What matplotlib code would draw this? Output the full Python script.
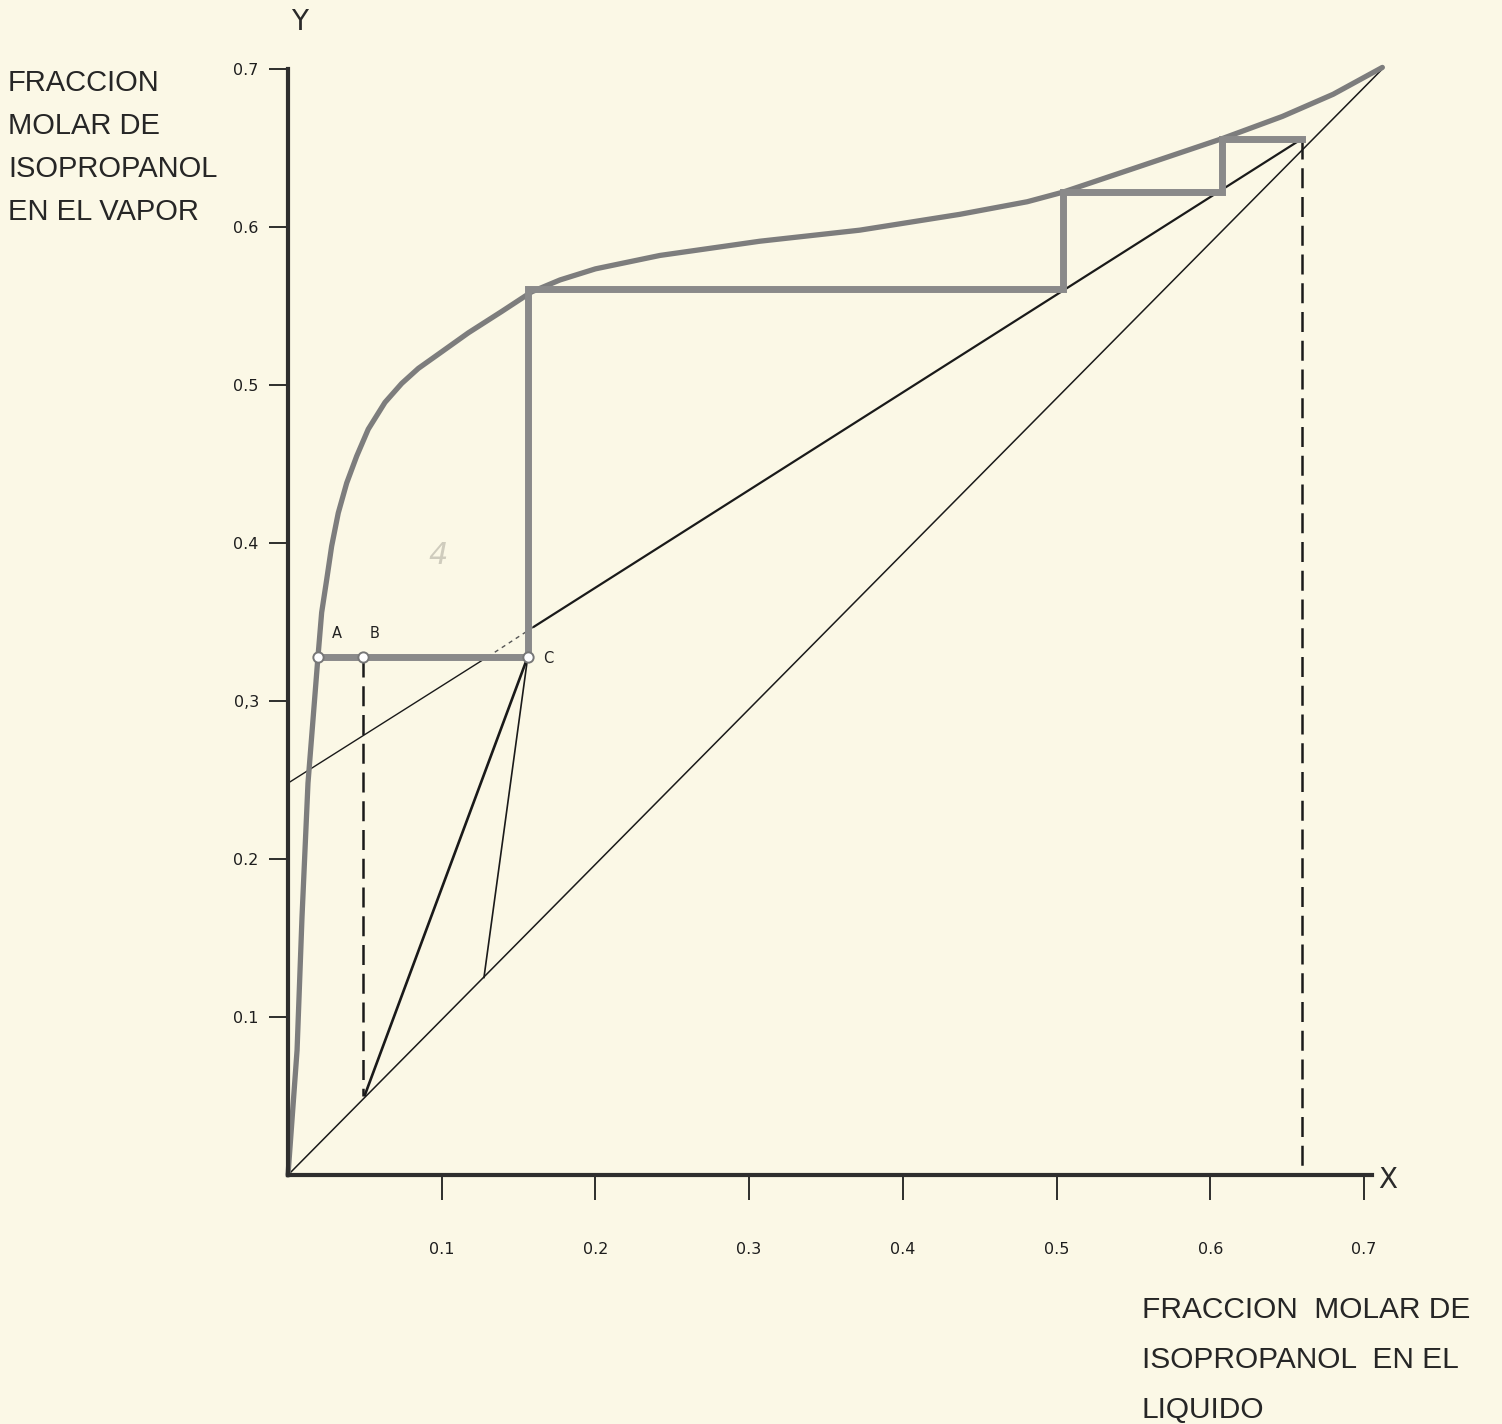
import matplotlib.pyplot as plt
import numpy as np

# figure size in pixels and the pixel position of the data origin / scale
W, H = 1502, 1424
OX, OY = 288, 1175          # pixel of (0, 0)
SX, SY = 1537, 1580         # pixels per unit
BG = '#fbf8e6'

# equilibrium curve
eq_x = [0.0, 0.0059, 0.0091, 0.013, 0.0195, 0.0219, 0.0252, 0.0284, 0.0327, 0.0382,
        0.0447, 0.0522, 0.0631, 0.074, 0.0848, 0.100, 0.1173, 0.139, 0.1586, 0.177,
        0.200, 0.242, 0.307, 0.372, 0.437, 0.481, 0.504, 0.550, 0.608, 0.647, 0.680, 0.712]
eq_y = [0.0, 0.079, 0.163, 0.248, 0.328, 0.356, 0.377, 0.398, 0.419, 0.438,
        0.455, 0.472, 0.489, 0.501, 0.5105, 0.521, 0.533, 0.5465, 0.559, 0.5665,
        0.5735, 0.582, 0.591, 0.598, 0.608, 0.616, 0.622, 0.637, 0.656, 0.670, 0.684, 0.701]

# diagonal y = x as drawn
diag_x = [0.0, 0.712]
diag_y = [0.0, 0.700]

# operating line: thin part, dotted part near C, heavier part up to xD
op_thin_x = [0.0, 0.130]
op_thin_y = [0.248, 0.328]
op_dot_x = [0.130, 0.160]
op_dot_y = [0.328, 0.347]
op_x = [0.160, 0.660]
op_y = [0.347, 0.656]

# stepping between curve and operating line
stair_x = [0.660, 0.608, 0.608, 0.504, 0.504, 0.156, 0.156, 0.0195]
stair_y = [0.656, 0.656, 0.622, 0.622, 0.561, 0.561, 0.328, 0.328]

# lines from C down to the diagonal
feed1_x = [0.156, 0.050]
feed1_y = [0.328, 0.0506]
feed2_x = [0.156, 0.1275]
feed2_y = [0.328, 0.125]

# dashed verticals
dashB_x = [0.049, 0.049]
dashB_y = [0.328, 0.050]
dashD_x = [0.660, 0.660]
dashD_y = [0.656, 0.0]

# marked points
pts_x = [0.0195, 0.049, 0.156]
pts_y = [0.328, 0.328, 0.328]
pts_lab = ['A', 'B', 'C']

x_ticks = [0.1, 0.2, 0.3, 0.4, 0.5, 0.6, 0.7]
x_tick_labels = ['0.1', '0.2', '0.3', '0.4', '0.5', '0.6', '0.7']
y_ticks = [0.1, 0.2, 0.3, 0.4, 0.5, 0.6, 0.7]
y_tick_labels = ['0.1', '0.2', '0,3', '0.4', '0.5', '0.6', '0.7']

y_title = ['FRACCION', 'MOLAR DE', 'ISOPROPANOL', 'EN EL VAPOR']
x_title = ['FRACCION  MOLAR DE', 'ISOPROPANOL  EN EL', 'LIQUIDO']


def fx(px):
    return px / W


def fy(py):
    return 1 - py / H


fig = plt.figure(figsize=(W / 100, H / 100), dpi=100, facecolor=BG)
ax = fig.add_axes([0, 0, 1, 1])
ax.set_facecolor(BG)
ax.set_xlim(-OX / SX, (W - OX) / SX)
ax.set_ylim(-(H - OY) / SY, OY / SY)

for s in ['top', 'right']:
    ax.spines[s].set_visible(False)
for s in ['left', 'bottom']:
    ax.spines[s].set_position(('data', 0))
    ax.spines[s].set_linewidth(3)
    ax.spines[s].set_color('#2e2e2e')
ax.spines['left'].set_bounds(0, 0.7)
ax.spines['bottom'].set_bounds(0, 0.705)

ax.set_xticks(x_ticks)
ax.set_xticklabels(x_tick_labels)
ax.set_yticks(y_ticks)
ax.set_yticklabels(y_tick_labels)
ax.tick_params(axis='x', direction='out', length=18, width=1.3, pad=30,
               labelsize=11.5, colors='#1e1e1e')
ax.tick_params(axis='y', direction='out', length=14, width=1.3, pad=7,
               labelsize=11.5, colors='#1e1e1e')

# thin lines
ax.plot(diag_x, diag_y, color='#1a1a1a', lw=1.1)
ax.plot(op_thin_x, op_thin_y, color='#1a1a1a', lw=1.0)
ax.plot(op_dot_x, op_dot_y, color='#555555', lw=1.0, ls=(0, (3, 3)))
ax.plot(op_x, op_y, color='#1a1a1a', lw=1.6)
ax.plot(feed1_x, feed1_y, color='#1a1a1a', lw=1.9)
ax.plot(feed2_x, feed2_y, color='#1a1a1a', lw=1.2)
ax.plot(dashB_x, dashB_y, color='#1a1a1a', lw=1.8, ls=(0, (8, 3.5)))
ax.plot(dashD_x, dashD_y, color='#1a1a1a', lw=1.8, ls=(0, (8, 3.5)))

# heavy gray lines
ax.plot(eq_x, eq_y, color='#7d7d7d', lw=3.8, solid_capstyle='round', solid_joinstyle='round')
ax.plot(stair_x, stair_y, color='#8a8a8a', lw=5, solid_joinstyle='miter')

ax.scatter(pts_x, pts_y, s=55, facecolor='white', edgecolor='#777777', linewidth=1.4, zorder=5)
ax.text(pts_x[0] + 0.009, pts_y[0] + 0.012, pts_lab[0], fontsize=10.5, color='#222222')
ax.text(pts_x[1] + 0.004, pts_y[1] + 0.012, pts_lab[1], fontsize=10.5, color='#222222')
ax.text(pts_x[2] + 0.010, pts_y[2] - 0.004, pts_lab[2], fontsize=10.5, color='#222222')

# faint pencil mark
fig.text(fx(438), fy(555), '4', fontsize=22, color='#cfccbd', style='italic',
         ha='center', va='center')

# axis letters
fig.text(fx(300), fy(22), 'Y', fontsize=20, color='#2a2a2a', ha='center', va='center')
fig.text(fx(1388), fy(1180), 'X', fontsize=20, color='#2a2a2a', ha='center', va='center')

# axis titles
for i, line in enumerate(y_title):
    fig.text(fx(8), fy(83 + 43 * i), line, fontsize=21, family='Liberation Sans',
             color='#262626', ha='left', va='center')
for i, line in enumerate(x_title):
    fig.text(fx(1142), fy(1310 + 50 * i), line, fontsize=21.5, family='Liberation Sans',
             color='#262626', ha='left', va='center')

fig.savefig('out.png', dpi=100, facecolor=BG)
